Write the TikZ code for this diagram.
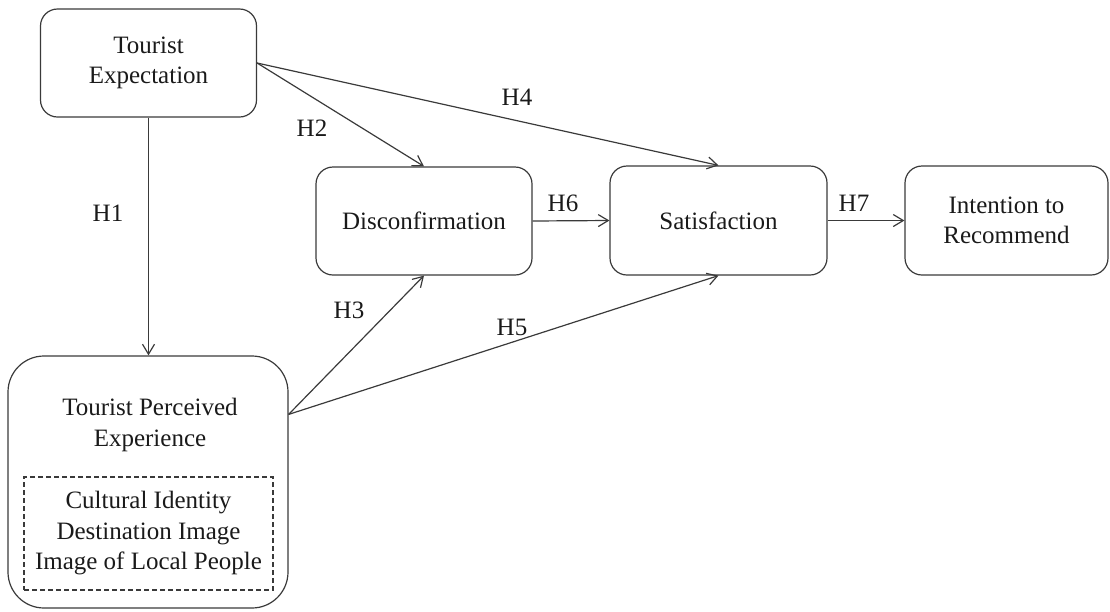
\documentclass[tikz,border=0pt]{standalone}
\usepackage{fontspec}
\setmainfont{Liberation Serif}[Ligatures=TeX]
\usetikzlibrary{arrows.meta}
\definecolor{edgegray}{HTML}{3A3A3A}
\definecolor{inkblack}{HTML}{1A1A1A}
\begin{document}
\begin{tikzpicture}[x=1pt,y=-1pt,
  every node/.style={text=inkblack,font=\rmfamily\fontsize{25}{30.5}\selectfont},
  stagebox/.style={draw=edgegray,line width=1.2pt,rounded corners=17pt,
    align=center,inner sep=0pt},
  arr/.style={draw=edgegray,line width=1.2pt,
    -{Straight Barb[length=10pt,width=12pt,line width=1.2pt]}},
  hyp/.style={inner sep=0pt}]
\useasboundingbox (0,0) rectangle (1110,611);

% constructs of the model
\node[stagebox,minimum width=216pt,minimum height=108pt] (te) at (148.5,63)
  {Tourist\\Expectation};
\node[stagebox,minimum width=216pt,minimum height=108pt] (disc) at (424,221)
  {Disconfirmation};
\node[stagebox,minimum width=217pt,minimum height=109pt] (sat) at (718.5,220.5)
  {Satisfaction};
\node[stagebox,minimum width=203pt,minimum height=109pt] (int) at (1006.5,220.5)
  {Intention to\\Recommend};

% perceived experience with its dimensions
\node[stagebox,rounded corners=36pt,minimum width=280pt,minimum height=252pt]
  (tpe) at (148,482) {};
\node[align=center,inner sep=0pt] (tpetitle) at (150,425)
  {Tourist Perceived\\Experience};
\node[draw=edgegray,line width=1.2pt,dash pattern=on 5pt off 3pt,align=center,
  inner sep=0pt,minimum width=249pt,minimum height=113pt] (dims) at (148.5,533.5)
  {Cultural Identity\\Destination Image\\Image of Local People};

\coordinate (tpeout) at ([yshift=-59pt]tpe.north east);

% hypothesised paths
\draw[arr] (te.south) -- (te.south |- tpe.north);
\draw[arr] (te.east) -- (disc.north);
\draw[arr] (te.east) -- (sat.north);
\draw[arr] (tpeout) -- (disc.south);
\draw[arr] (tpeout) -- (sat.south);
\draw[arr] (disc.east) -- (sat.west);
\draw[arr] (sat.east) -- (int.west);

% path labels
\node[hyp] (h1) at (108,213) {H1};
\node[hyp] (h2) at (312,128) {H2};
\node[hyp] (h3) at (349,310) {H3};
\node[hyp] (h4) at (517,97) {H4};
\node[hyp] (h5) at (512,327) {H5};
\node[hyp] (h6) at (563,203) {H6};
\node[hyp] (h7) at (854,203) {H7};
\end{tikzpicture}
\end{document}
